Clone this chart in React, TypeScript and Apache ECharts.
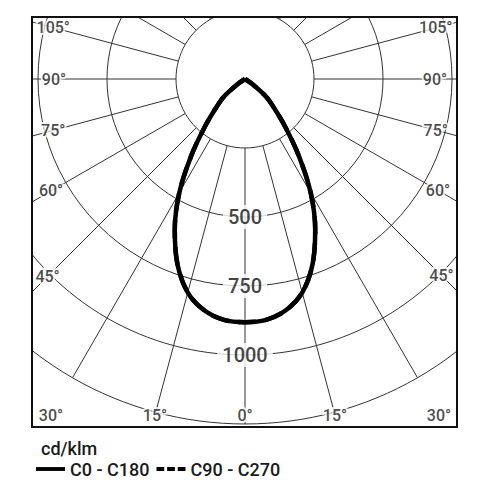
import React, { useEffect, useRef } from "react";
import * as echarts from "echarts";

// ---- data ----
const gammaDeg = [0, 5, 10, 15, 20, 25, 30, 35, 40, 45, 50, 55, 60, 65, 70, 75, 80, 85, 90];
const c0c180 = [881, 876, 851, 801, 715, 602, 476, 340, 228, 150, 100, 32, 0, 0, 0, 0, 0, 0, 0];
const c90c270 = [881, 876, 851, 801, 715, 602, 476, 340, 228, 150, 100, 32, 0, 0, 0, 0, 0, 0, 0];
const radiusLabels = [500, 750, 1000];
const angleTicks = [0, 15, 30, 45, 60, 75, 90, 105];
const seriesNames = ["C0 - C180", "C90 - C270"];
const unitLabel = "cd/klm";

// ---- layout ----
const CX = 245;
const CY = 79;
const R_OUT = 345;
const R_MAX = 1250;
const R_STEP = 250;
const PX_PER_UNIT = R_OUT / R_MAX;
const BOX = { left: 32, top: 17, right: 457, bottom: 427 };
const SIDE_INSET = 22;
const BOTTOM_LABEL_Y = 415;
const FONT = "Roboto";

function halfCurve(values: number[], side: number): number[][] {
  const pts: number[][] = [];
  for (let i = 0; i < gammaDeg.length; i++) {
    const g = gammaDeg[i];
    pts.push([values[i], side < 0 ? g : (360 - g) % 360]);
    if (values[i] === 0) break;
  }
  return pts;
}

function curveData(values: number[]): number[][] {
  const left = halfCurve(values, -1).reverse();
  const right = halfCurve(values, 1).slice(1);
  return left.concat(right);
}

function angleLabelRadius(g: number, side: number): number {
  const rad = (g * Math.PI) / 180;
  const sx = Math.sin(rad);
  const cy = Math.cos(rad);
  const halfW = side < 0 ? CX - BOX.left : BOX.right - CX;
  const tSide = sx > 1e-6 ? halfW / sx : Infinity;
  const tBottom = cy > 1e-6 ? (BOX.bottom - CY) / cy : Infinity;
  const t = tSide < tBottom ? tSide - SIDE_INSET : (BOTTOM_LABEL_Y - CY) / cy;
  return t / PX_PER_UNIT;
}

function angleLabelData() {
  const out: any[] = [];
  angleTicks.forEach((g) => {
    if (g === 0) {
      out.push({ value: [angleLabelRadius(0, 1), 0], name: `${g}°` });
    } else {
      out.push({ value: [angleLabelRadius(g, -1), g], name: `${g}°` });
      out.push({ value: [angleLabelRadius(g, 1), 360 - g], name: `${g}°` });
    }
  });
  return out;
}

const SOLID_ICON = "path://M0,0H30V4H0Z";
const DASH_ICON = "path://M0,0H8V4H0Z M11,0H19V4H11Z M22,0H30V4H22Z";

export default function App() {
  const ref = useRef<HTMLDivElement>(null);
  useEffect(() => {
    if (!ref.current) return;
    const chart = echarts.init(ref.current, null, { renderer: "svg" });
    const gridLine = { color: "#333", width: 1 };
    const option: any = {
      animation: false,
      backgroundColor: "#fff",
      textStyle: { fontFamily: FONT },
      polar: [
        { center: [CX, CY], radius: [(R_STEP / R_MAX) * R_OUT, R_OUT] },
        { center: [CX, CY], radius: [0, R_OUT] },
      ],
      radiusAxis: [
        {
          polarIndex: 0,
          type: "value",
          min: R_STEP,
          max: R_MAX,
          interval: R_STEP,
          axisLine: { show: false },
          axisTick: { show: false },
          axisLabel: { show: false },
          splitLine: { show: true, lineStyle: gridLine },
          z: 1,
        },
        { polarIndex: 1, type: "value", min: 0, max: R_MAX, show: false },
      ],
      angleAxis: [
        {
          polarIndex: 0,
          type: "value",
          min: 0,
          max: 360,
          interval: 15,
          startAngle: 270,
          clockwise: true,
          axisLine: { show: false },
          axisTick: { show: false },
          axisLabel: { show: false },
          splitLine: { show: true, lineStyle: gridLine },
          z: 1,
        },
        {
          polarIndex: 1,
          type: "value",
          min: 0,
          max: 360,
          startAngle: 270,
          clockwise: true,
          show: false,
        },
      ],
      title: {
        text: unitLabel,
        left: 41,
        top: 439,
        padding: 0,
        z: 60,
        textStyle: { fontFamily: FONT, fontSize: 18, fontWeight: 500, color: "#1a1a1a" },
      },
      legend: {
        left: 36,
        top: 460,
        padding: 0,
        itemGap: 7,
        itemWidth: 29,
        itemHeight: 4,
        selectedMode: false,
        z: 60,
        data: [
          { name: seriesNames[0], icon: SOLID_ICON },
          { name: seriesNames[1], icon: DASH_ICON },
        ],
        textStyle: { fontFamily: FONT, fontSize: 18, fontWeight: 500, color: "#1a1a1a" },
      },
      series: [
        {
          name: seriesNames[1],
          type: "line",
          coordinateSystem: "polar",
          polarIndex: 1,
          data: curveData(c90c270),
          symbol: "none",
          smooth: 0.35,
          clip: false,
          color: "#000",
          lineStyle: { color: "#000", width: 4.5, type: "dashed" },
          z: 3,
        },
        {
          name: seriesNames[0],
          type: "line",
          coordinateSystem: "polar",
          polarIndex: 1,
          data: curveData(c0c180),
          symbol: "none",
          smooth: 0.35,
          clip: false,
          color: "#000",
          lineStyle: { color: "#000", width: 4.5 },
          z: 4,
        },
        {
          name: "radiusLabels",
          type: "scatter",
          coordinateSystem: "polar",
          polarIndex: 1,
          silent: true,
          clip: false,
          symbolSize: 1,
          itemStyle: { color: "rgba(0,0,0,0)" },
          data: radiusLabels.map((v) => [v, 0]),
          label: {
            show: true,
            position: "inside",
            formatter: (p: any) => String(p.value[0]),
            fontFamily: FONT,
            fontSize: 20,
            fontWeight: 500,
            color: "#111",
            backgroundColor: "#fff",
            padding: [2, 5],
          },
          z: 2,
        },
        {
          name: "angleLabels",
          type: "scatter",
          coordinateSystem: "polar",
          polarIndex: 1,
          silent: true,
          clip: false,
          symbolSize: 1,
          itemStyle: { color: "rgba(0,0,0,0)" },
          data: angleLabelData(),
          label: {
            show: true,
            position: "inside",
            formatter: "{b}",
            fontFamily: FONT,
            fontSize: 16,
            fontWeight: 500,
            color: "#1a1a1a",
            textBorderColor: "#fff",
            textBorderWidth: 4,
          },
          z: 2,
        },
      ],
      graphic: [
        { type: "rect", z: 50, silent: true, shape: { x: 0, y: 0, width: 487, height: BOX.top }, style: { fill: "#fff" } },
        { type: "rect", z: 50, silent: true, shape: { x: 0, y: 0, width: BOX.left, height: 486 }, style: { fill: "#fff" } },
        { type: "rect", z: 50, silent: true, shape: { x: BOX.right, y: 0, width: 487 - BOX.right, height: 486 }, style: { fill: "#fff" } },
        { type: "rect", z: 50, silent: true, shape: { x: 0, y: BOX.bottom, width: 487, height: 486 - BOX.bottom }, style: { fill: "#fff" } },
        {
          type: "rect",
          z: 55,
          silent: true,
          shape: { x: BOX.left, y: BOX.top, width: BOX.right - BOX.left, height: BOX.bottom - BOX.top },
          style: { fill: "none", stroke: "#111", lineWidth: 2 },
        },
      ],
    };
    chart.setOption(option);
    return () => chart.dispose();
  }, []);
  return (
    <div
      ref={ref}
      style={{ position: "fixed", left: 0, top: 0, width: 487, height: 486, background: "#fff" }}
    />
  );
}
